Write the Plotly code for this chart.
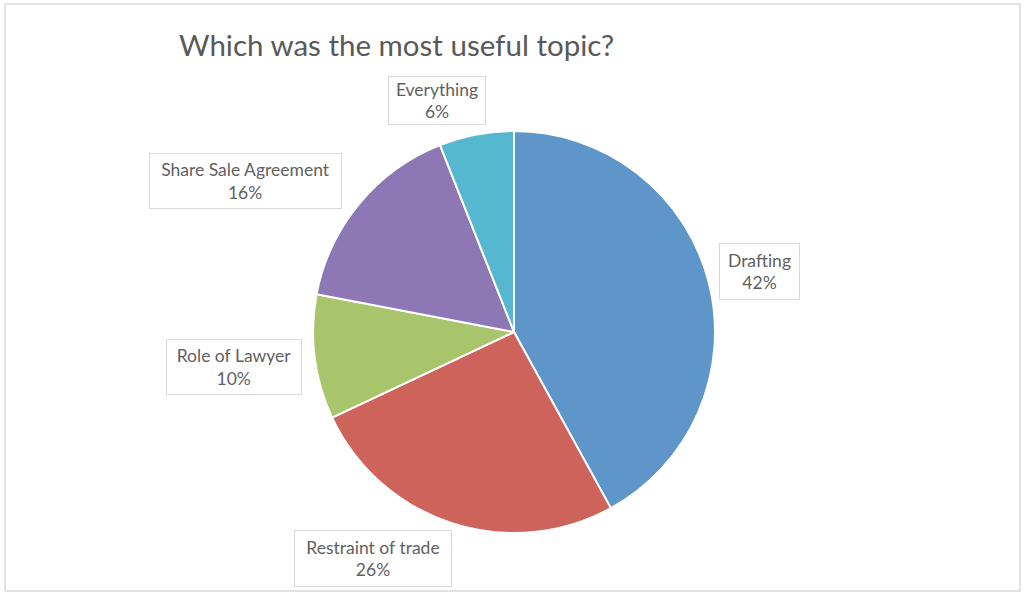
import plotly.graph_objects as go

# Survey results: most useful topic (percent of responses)
topics = ["Drafting", "Restraint of trade", "Role of Lawyer", "Share Sale Agreement", "Everything"]
shares = [42, 26, 10, 16, 6]
colors = ["#5F96C9", "#CE635B", "#A9C56B", "#8E77B5", "#55B8D0"]

W, H = 1026, 593
# Label box centers (px) and box sizes (px), one per topic
label_pos = [(759, 271), (373, 558), (234, 367), (245, 181), (437, 100)]
label_box = [(81, 57), (158, 57), (136, 56), (193, 56), (98, 49)]

cx, cy, r = 514, 332, 201

fig = go.Figure(go.Pie(
    labels=topics,
    values=shares,
    sort=False,
    direction="clockwise",
    rotation=0,
    marker=dict(colors=colors, line=dict(color="white", width=2)),
    textinfo="none",
    hoverinfo="label+percent",
    domain=dict(x=[(cx - r) / W, (cx + r) / W], y=[(H - cy - r) / H, (H - cy + r) / H]),
    showlegend=False,
))

font_label = dict(family="Lato, 'Open Sans', sans-serif", size=17.5, color="#5F5F5F")
for name, val, (px, py), (bw, bh) in zip(topics, shares, label_pos, label_box):
    fig.add_annotation(
        x=px / W, y=1 - py / H, xref="paper", yref="paper",
        xanchor="center", yanchor="middle",
        text=f"{name}<br>{val}%", showarrow=False,
        font=font_label, align="center",
        width=bw - 2, height=bh - 2,
        bordercolor="#D9D9D9", borderwidth=1, borderpad=0,
        bgcolor="white",
    )

fig.add_annotation(
    x=177 / W, y=1 - 44 / H, xref="paper", yref="paper",
    xanchor="left", yanchor="middle",
    text="Which was the most useful topic?", showarrow=False,
    font=dict(family="Lato, 'Open Sans', sans-serif", size=29.5, color="#595959"),
)

# Chart area frame
fig.add_shape(type="rect", xref="paper", yref="paper",
              x0=5 / W, x1=1020 / W, y0=1 - 591 / H, y1=1 - 4 / H,
              line=dict(color="#D9D9D9", width=1.5), fillcolor="rgba(0,0,0,0)", layer="below")

fig.update_layout(
    width=W, height=H,
    margin=dict(l=0, r=0, t=0, b=0),
    paper_bgcolor="white", plot_bgcolor="white",
)

fig.write_html("out.html")
